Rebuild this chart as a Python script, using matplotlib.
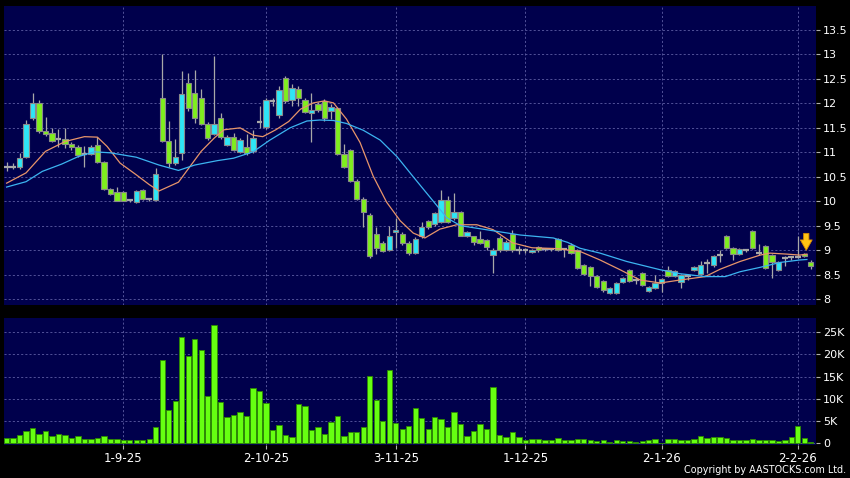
import numpy as np
import matplotlib.pyplot as plt

# daily OHLC (HKD), 6 Aug 2025 .. 4 Feb 2026
opens = [10.71, 10.71, 10.71, 10.90, 11.70, 12.00, 11.44, 11.39, 11.27, 11.27,
         11.17, 11.10, 10.97, 10.96, 11.14, 10.80, 10.25, 10.18, 10.19, 10.02,
         9.99, 10.22, 10.04, 10.02, 12.12, 11.24, 10.79, 10.99, 12.41, 12.21,
         12.12, 11.58, 11.38, 11.71, 11.15, 11.31, 11.01, 11.10, 11.02, 11.61,
         11.51, 12.04, 11.76, 12.51, 12.06, 12.29, 12.06, 11.80, 11.99, 12.04,
         11.85, 11.90, 10.97, 11.04, 10.42, 10.05, 9.71, 9.33, 9.14, 9.01,
         9.38, 9.33, 9.14, 8.95, 9.28, 9.59, 9.54, 9.58, 10.02, 9.66,
         9.78, 9.30, 9.28, 9.22, 9.20, 8.91, 9.25, 9.01, 9.33, 9.01,
         9.01, 8.97, 9.06, 9.02, 9.02, 9.22, 9.02, 9.10, 9.01, 8.69,
         8.65, 8.47, 8.38, 8.12, 8.12, 8.36, 8.59, 8.40, 8.53, 8.16,
         8.23, 8.32, 8.60, 8.48, 8.36, 8.48, 8.59, 8.52, 8.73, 8.69,
         8.91, 9.30, 9.05, 8.93, 9.00, 9.39, 8.95, 9.08, 8.90, 8.60,
         8.84, 8.86, 8.86, 8.92, 8.75]
closes = [10.71, 10.71, 10.88, 11.57, 12.00, 11.43, 11.37, 11.24, 11.27, 11.17,
          11.10, 10.95, 10.97, 11.10, 10.80, 10.25, 10.15, 10.01, 10.01, 10.02,
          10.20, 10.04, 10.04, 10.56, 11.24, 10.79, 10.91, 12.19, 11.91, 11.70,
          11.58, 11.29, 11.58, 11.31, 11.31, 11.05, 11.25, 10.99, 11.29, 11.61,
          12.06, 12.04, 12.27, 12.04, 12.31, 12.10, 11.83, 11.86, 11.87, 11.70,
          11.93, 10.97, 10.71, 10.42, 10.05, 9.79, 8.88, 9.04, 8.99, 9.28,
          9.42, 9.14, 8.94, 9.23, 9.48, 9.47, 9.75, 10.02, 9.58, 9.78,
          9.30, 9.37, 9.17, 9.15, 9.07, 9.00, 9.00, 9.17, 9.00, 9.01,
          9.01, 9.00, 9.00, 9.02, 9.02, 9.01, 9.02, 8.95, 8.64, 8.51,
          8.48, 8.24, 8.18, 8.23, 8.33, 8.43, 8.38, 8.40, 8.29, 8.25,
          8.33, 8.41, 8.48, 8.57, 8.50, 8.48, 8.65, 8.69, 8.73, 8.88,
          8.91, 9.05, 8.92, 9.03, 9.00, 9.05, 8.95, 8.64, 8.76, 8.75,
          8.84, 8.86, 8.86, 8.88, 8.68]
highs = [10.80, 10.78, 10.98, 11.67, 12.21, 12.07, 11.73, 11.49, 11.47, 11.49,
         11.22, 11.15, 11.12, 11.14, 11.32, 10.82, 10.28, 10.30, 10.21, 10.05,
         10.22, 10.25, 10.06, 10.67, 13.00, 11.63, 11.28, 12.67, 12.62, 12.68,
         12.30, 11.62, 12.96, 11.80, 11.35, 11.40, 11.30, 11.38, 11.45, 11.94,
         12.10, 12.12, 12.35, 12.56, 12.40, 12.35, 12.10, 12.21, 12.02, 12.08,
         11.98, 11.93, 11.18, 11.06, 10.45, 10.08, 9.75, 9.48, 9.18, 9.50,
         9.66, 9.38, 9.18, 9.26, 9.58, 9.62, 9.78, 10.24, 10.10, 10.17,
         9.80, 9.40, 9.30, 9.40, 9.23, 9.05, 9.28, 9.20, 9.42, 9.08,
         9.05, 9.03, 9.08, 9.05, 9.04, 9.24, 9.05, 9.15, 9.03, 8.71,
         8.67, 8.49, 8.40, 8.25, 8.36, 8.45, 8.62, 8.45, 8.55, 8.27,
         8.50, 8.43, 8.67, 8.60, 8.52, 8.52, 8.67, 8.78, 8.81, 8.90,
         9.01, 9.32, 9.07, 9.05, 9.03, 9.41, 9.12, 9.10, 8.92, 8.77,
         8.88, 8.89, 9.30, 8.94, 8.80]
lows = [10.62, 10.66, 10.66, 10.88, 11.66, 11.40, 11.33, 11.22, 11.10, 11.08,
        11.05, 10.90, 10.71, 10.94, 10.78, 10.22, 10.12, 10.00, 10.00, 9.98,
        9.96, 10.02, 10.01, 10.00, 11.22, 10.71, 10.75, 10.84, 11.85, 11.60,
        11.55, 11.25, 11.35, 11.28, 11.12, 11.02, 10.98, 10.95, 10.98, 11.50,
        11.48, 11.95, 11.70, 12.00, 11.95, 11.95, 11.80, 11.22, 11.82, 11.65,
        11.68, 10.95, 10.68, 10.40, 10.03, 9.48, 8.84, 8.93, 8.97, 8.98,
        9.05, 9.10, 8.90, 8.93, 9.25, 9.44, 9.50, 9.55, 9.55, 9.62,
        9.28, 9.27, 9.10, 9.12, 9.00, 8.53, 8.97, 8.98, 8.97, 8.92,
        8.95, 8.95, 8.96, 8.98, 8.99, 8.99, 8.87, 8.93, 8.62, 8.49,
        8.27, 8.22, 8.14, 8.10, 8.10, 8.33, 8.36, 8.30, 8.27, 8.14,
        8.20, 8.15, 8.45, 8.46, 8.22, 8.40, 8.57, 8.50, 8.54, 8.66,
        8.75, 9.03, 8.80, 8.91, 8.97, 9.03, 8.90, 8.62, 8.43, 8.58,
        8.68, 8.80, 8.84, 8.86, 8.62]
# volume in thousands
volumes = [1.2, 1.2, 1.9, 2.8, 3.4, 2.0, 2.7, 1.65, 2.1, 1.9,
           1.3, 1.6, 1.0, 1.0, 1.3, 1.65, 1.0, 1.0, 0.8, 0.75,
           0.75, 0.7, 0.9, 3.6, 18.7, 7.5, 9.6, 23.9, 19.7, 23.4,
           20.9, 10.7, 26.6, 9.2, 5.9, 6.4, 7.0, 6.2, 12.5, 11.8,
           9.0, 2.9, 4.05, 1.8, 1.4, 8.8, 8.3, 3.1, 3.7, 2.0,
           4.9, 6.2, 1.7, 2.55, 2.6, 3.75, 15.2, 9.8, 5.0, 16.5,
           4.5, 3.2, 3.9, 8.0, 5.6, 3.2, 5.9, 5.5, 3.7, 7.0,
           4.35, 1.6, 2.7, 4.3, 3.15, 12.6, 1.9, 1.4, 2.5, 1.35,
           0.8, 1.0, 1.0, 0.8, 0.8, 1.3, 0.8, 0.75, 1.0, 0.9,
           0.75, 0.6, 0.7, 0.3, 0.7, 0.6, 0.6, 0.3, 0.5, 0.8,
           0.9, 0.15, 1.05, 1.05, 0.7, 0.7, 1.0, 1.65, 1.1, 1.5,
           1.35, 1.3, 0.7, 0.7, 0.7, 1.05, 0.75, 0.75, 0.75, 0.45,
           0.7, 1.4, 4.0, 1.3, 0.4]

# moving averages (bar position, value)
ma_fast_x = [0, 3, 6, 9, 12, 14, 15.5, 17.5, 20, 22, 23.5, 26.5, 28.5, 30, 32, 33.5,
             36, 38, 39.5, 41.5, 43.5, 45.3, 47.3, 49, 50.4, 52.4, 54.5, 56.5, 58.6,
             60.7, 62.7, 64.5, 66.8, 69.4, 72.5, 75, 78, 81, 85, 88.5, 91.5, 94.6,
             97.7, 100.8, 103.8, 107.7, 110, 113.1, 116.2, 117.7, 120.3, 122.3, 123.4]
ma_fast_y = [10.37, 10.58, 11.02, 11.22, 11.32, 11.31, 11.12, 10.78, 10.54, 10.34,
             10.21, 10.39, 10.75, 11.02, 11.29, 11.46, 11.50, 11.35, 11.32, 11.46,
             11.63, 11.88, 12.01, 12.05, 12.01, 11.68, 11.20, 10.52, 9.98, 9.60,
             9.35, 9.25, 9.43, 9.52, 9.52, 9.42, 9.15, 9.05, 9.03, 8.97, 8.80,
             8.60, 8.39, 8.33, 8.39, 8.46, 8.61, 8.77, 8.90, 8.94, 8.92, 8.90, 8.92]
ma_slow_x = [0, 3, 5.5, 8.5, 11, 13.5, 16, 20, 23.5, 26.5, 29, 32.5, 35, 38, 40.6,
             43.7, 46.3, 48.3, 50.4, 52.4, 55, 57.6, 60.2, 62.7, 65.3, 67.9, 70,
             73.9, 79.2, 84.3, 86.5, 88.4, 91.5, 95.6, 100.8, 103.8, 107.7, 110.8,
             113.1, 116.2, 119.3, 122.3, 123.4]
ma_slow_y = [10.29, 10.40, 10.61, 10.76, 10.91, 11.01, 10.99, 10.90, 10.74, 10.63,
             10.74, 10.83, 10.88, 11.01, 11.25, 11.50, 11.64, 11.66, 11.65, 11.59,
             11.45, 11.25, 10.91, 10.50, 10.08, 9.66, 9.50, 9.42, 9.31, 9.25, 9.16,
             9.04, 8.94, 8.77, 8.60, 8.52, 8.46, 8.46, 8.56, 8.65, 8.75, 8.80, 8.81]

date_ticks = [18, 40, 60, 80, 101, 122]
date_labels = ['1-9-25', '2-10-25', '3-11-25', '1-12-25', '2-1-26', '2-2-26']
price_ticks = [8, 8.5, 9, 9.5, 10, 10.5, 11, 11.5, 12, 12.5, 13, 13.5]
vol_ticks = [0, 5, 10, 15, 20, 25]
vol_labels = ['0', '5K', '10K', '15K', '20K', '25K']
arrow_idx = 123

o = np.array(opens)
c = np.array(closes)
h = np.array(highs)
l = np.array(lows)
idx = np.arange(len(c))

navy = '#00004c'
grid_kw = dict(color='#5e5ea4', linestyle=(0, (2.5, 2.5)), linewidth=0.6)

fig = plt.figure(figsize=(8.5, 4.78), dpi=100, facecolor='black')
ax = fig.add_axes([4/850, 1-305/478, 812/850, 299/478], facecolor=navy)
axv = fig.add_axes([4/850, 1-445/478, 812/850, 126.7/478], facecolor=navy, sharex=ax)

# candles
up = c > o
dn = c < o
flat = c == o
ax.vlines(idx, l, h, color='#a8a8a8', linewidth=0.9, zorder=2)
ax.bar(idx[up], (c - o)[up], bottom=o[up], width=0.82, color='#2ee6f6',
       edgecolor='#8a8a8a', linewidth=0.8, zorder=3)
ax.bar(idx[dn], (o - c)[dn], bottom=c[dn], width=0.82, color='#7fee1e',
       edgecolor='#8a8a8a', linewidth=0.8, zorder=3)
ax.hlines(c[flat], idx[flat] - 0.45, idx[flat] + 0.45, color='#a8a8a8',
          linewidth=1.6, zorder=3)

ax.plot(ma_fast_x, ma_fast_y, color='#e8956a', linewidth=0.9, zorder=4)
ax.plot(ma_slow_x, ma_slow_y, color='#3cb4f0', linewidth=0.9, zorder=4)

# marker arrow over the latest session
ax.annotate('', xy=(arrow_idx + 0.3, h[arrow_idx]), xytext=(arrow_idx + 0.3, h[arrow_idx] + 0.46),
            arrowprops=dict(arrowstyle='simple,head_length=0.75,head_width=0.85,tail_width=0.38',
                            fc='#ffc414', ec='#d88a00', lw=0.6), zorder=5)

ax.set_xlim(-0.4, 124.8)
ax.set_ylim(7.88, 13.99)
ax.set_yticks(price_ticks)
ax.set_yticklabels(['%g' % t for t in price_ticks])
ax.yaxis.tick_right()
ax.set_xticks(date_ticks)
ax.tick_params(axis='x', length=0, labelbottom=False)
ax.tick_params(axis='y', colors='#b0b0b0', labelcolor='white', labelsize=8, length=3, pad=2)
ax.grid(True, **grid_kw)
ax.set_axisbelow(True)

# volume
axv.bar(idx, volumes, width=0.82, color='#66ff11', edgecolor='#2e8a00', linewidth=0.6, zorder=3)
axv.set_ylim(-0.38, 28.15)
axv.set_yticks(vol_ticks)
axv.set_yticklabels(vol_labels)
axv.yaxis.tick_right()
axv.set_xticks(date_ticks)
axv.set_xticklabels(date_labels)
axv.tick_params(axis='x', colors='#b0b0b0', labelcolor='white', labelsize=8.5, length=3, pad=2)
axv.tick_params(axis='y', colors='#b0b0b0', labelcolor='white', labelsize=8, length=3, pad=2)
axv.grid(True, **grid_kw)
axv.set_axisbelow(True)

for a in (ax, axv):
    for s in a.spines.values():
        s.set_visible(False)

fig.text(846/850, 1 - 470/478, 'Copyright by AASTOCKS.com Ltd.', ha='right', va='center',
         color='white', fontsize=6.9)

fig.savefig('out.png', dpi=100, facecolor='black')
